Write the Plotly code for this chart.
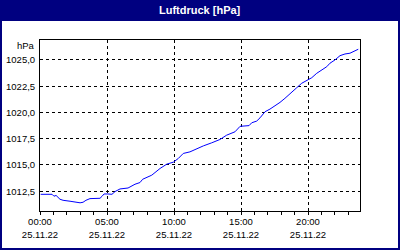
import plotly.graph_objects as go

hours = [0.05, 0.90, 1.04, 1.20, 1.49, 1.72, 2.24, 2.61, 2.99, 3.21, 3.43, 3.73,
         4.48, 4.63, 4.78, 5.07, 5.37, 5.60, 5.97, 6.57, 6.79, 7.09, 7.46, 7.66,
         8.34, 8.96, 9.46, 9.95, 10.32, 10.69, 11.19, 11.57, 12.19, 12.81, 13.43,
         13.93, 14.55, 14.93, 15.42, 15.60, 15.80, 16.17, 16.42, 16.79, 17.16,
         17.54, 17.91, 18.28, 18.78, 19.16, 19.53, 19.90, 20.28, 20.65, 21.02,
         21.40, 21.64, 22.01, 22.39, 22.76, 23.13, 23.51, 23.75]
pressure = [1012.21, 1012.21, 1012.03, 1012.10, 1011.74, 1011.64, 1011.55, 1011.45,
            1011.40, 1011.45, 1011.64, 1011.80, 1011.83, 1012.02, 1012.24, 1012.24,
            1012.21, 1012.47, 1012.72, 1012.81, 1012.98, 1013.17, 1013.33, 1013.64,
            1014.03, 1014.67, 1015.08, 1015.27, 1015.62, 1016.10, 1016.25, 1016.48,
            1016.82, 1017.11, 1017.43, 1017.84, 1018.16, 1018.68, 1018.70, 1018.75,
            1019.02, 1019.18, 1019.49, 1020.07, 1020.32, 1020.61, 1020.96, 1021.35,
            1021.98, 1022.36, 1022.78, 1023.03, 1023.31, 1023.73, 1024.05, 1024.36,
            1024.69, 1025.00, 1025.41, 1025.57, 1025.64, 1025.86, 1026.02]

x_tickvals = [0, 5, 10, 15, 20]
x_time_labels = ["00:00", "05:00", "10:00", "15:00", "20:00"]
x_date_labels = ["25.11.22"] * 5
y_tickvals = [1012.5, 1015.0, 1017.5, 1020.0, 1022.5, 1025.0]
y_ticklabels = ["1012,5", "1015,0", "1017,5", "1020,0", "1022,5", "1025,0"]
title_text = "Luftdruck [hPa]"
unit_text = "hPa"

W, H = 400, 250
L, R, T, B = 40, 40, 40, 39
PW, PH = W - L - R, H - T - B

def px(xp):
    return (xp - L) / PW

def py(yp):
    return (H - B - yp) / PH

NAVY = "#000080"
FONT = "Liberation Sans"
XR = [0, 23.88]

fig = go.Figure()
fig.add_trace(go.Scatter(x=hours, y=pressure, mode="lines",
                         line=dict(color="#0000ff", width=1), showlegend=False,
                         hoverinfo="skip"))
fig.add_trace(go.Scatter(x=[hours[0]], y=[pressure[0]], xaxis="x2", mode="markers",
                         marker=dict(opacity=0), showlegend=False, hoverinfo="skip"))

fig.update_layout(
    width=W, height=H,
    margin=dict(l=L, r=R, t=T, b=B, pad=0, autoexpand=False),
    paper_bgcolor="white", plot_bgcolor="white",
    font=dict(family=FONT, size=9.5, color="black"),
    xaxis=dict(range=XR, tickvals=x_tickvals, ticktext=x_time_labels,
               automargin=False,
               showgrid=True, gridcolor="black", gridwidth=1, griddash="3px,3px",
               showline=True, mirror=True, linecolor="black", linewidth=1,
               ticks="outside", ticklen=3, tickcolor="black", tickwidth=1,
               minor=dict(dtick=1, tick0=0, ticks="outside", ticklen=3,
                          tickcolor="black", showgrid=False),
               zeroline=False, ticklabelstandoff=-1,
               tickfont=dict(family=FONT, size=9.5, color="black")),
    xaxis2=dict(range=XR, overlaying="x", side="bottom", anchor="y",
                automargin=False,
                tickvals=x_tickvals, ticktext=x_date_labels, showgrid=False,
                showline=False, ticks="", zeroline=False, ticklabelstandoff=16,
                tickfont=dict(family=FONT, size=9.5, color="black")),
    yaxis=dict(range=[1010.62, 1026.9], tickvals=y_tickvals, ticktext=y_ticklabels,
               automargin=False,
               showgrid=True, gridcolor="black", gridwidth=1, griddash="3px,3px",
               showline=True, mirror=True, linecolor="black", linewidth=1,
               ticks="", zeroline=False, ticklabelstandoff=2,
               tickfont=dict(family=FONT, size=9.5, color="black")),
    shapes=[
        dict(type="rect", xref="paper", yref="paper", x0=px(0), x1=px(400),
             y0=py(20), y1=py(0), fillcolor=NAVY, line=dict(width=0), layer="above"),
        dict(type="rect", xref="paper", yref="paper", x0=px(1), x1=px(399),
             y0=py(249), y1=py(20), fillcolor="rgba(0,0,0,0)",
             line=dict(color=NAVY, width=2), layer="above"),
    ],
    annotations=[
        dict(text="<b>" + title_text + "</b>", xref="paper", yref="paper",
             x=px(200), y=py(10), xanchor="center", yanchor="middle",
             showarrow=False, font=dict(family=FONT, size=11, color="white")),
        dict(text=unit_text, xref="paper", yref="paper", x=px(36.5), y=py(45),
             xanchor="right", yanchor="middle", showarrow=False,
             font=dict(family=FONT, size=9.5, color="black")),
    ],
)

fig.write_html("out.html")
